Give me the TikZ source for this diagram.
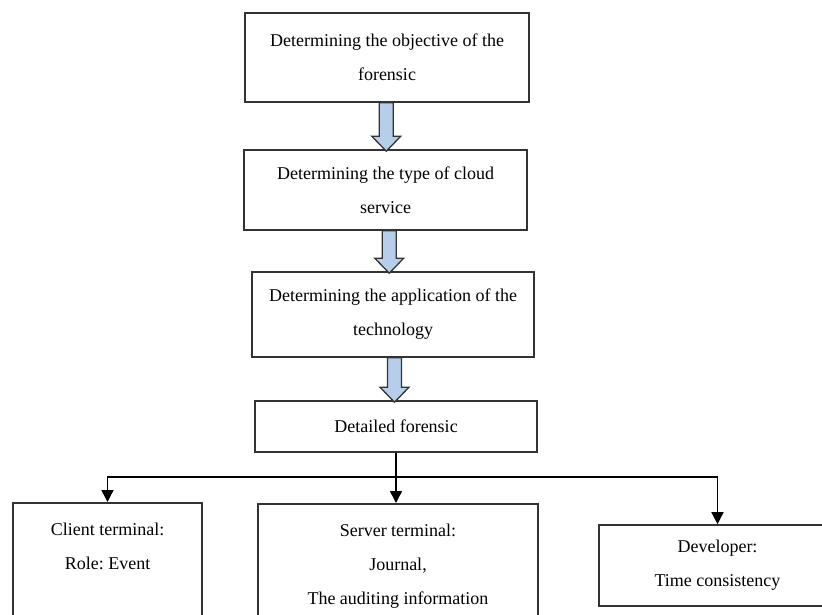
\documentclass[tikz,border=0pt]{standalone}
\usepackage{fontspec}
\setmainfont{Liberation Serif}
\usepackage{tikz}
\usetikzlibrary{positioning}
\usetikzlibrary{shapes,arrows.meta,calc}
\frenchspacing

\definecolor{boxline}{HTML}{333333}
\definecolor{arrowblue}{HTML}{B6CEEA}

\tikzset{
    stagebox/.style={draw=boxline, line width=1.6pt, rectangle, align=center,
        font=\fontsize{18}{34}\selectfont},
    boxtext/.style={align=center, anchor=north, font=\fontsize{18}{34}\selectfont},
    fatarrow/.style={draw=boxline, line width=1.3pt, fill=arrowblue, line join=miter},
    branch/.style={draw=black, line width=1.5pt},
    >={Triangle[length=12pt,width=12pt]}
}

% block arrow from the bottom of one box to the top of the next
\newcommand{\blockarrow}[2]{%
    \coordinate (mid) at ($(#1.south)!0.5!(#2.north)$);
    \coordinate (ta) at (mid |- #1.south);
    \coordinate (tb) at (mid |- #2.north);
    \draw[fatarrow] ($(ta)+(-7,0)$) -- ($(tb)+(-7,-13)$) -- ($(tb)+(-14.5,-13)$)
        -- ($(tb)+(0,2)$) -- ($(tb)+(14.5,-13)$) -- ($(tb)+(7,-13)$)
        -- ($(ta)+(7,0)$) -- cycle;
}

\begin{document}
\begin{tikzpicture}[x=1pt,y=-1pt]
    \clip (0,0) rectangle (822,615);

    % main steps
    \node[stagebox, minimum width=284pt, minimum height=89pt] (objective) at (387,57.5)
        {Determining the objective of the\\forensic};
    \node[stagebox, minimum width=283pt, minimum height=80pt] (service) at (385.5,190)
        {Determining the type of cloud\\service};
    \node[stagebox, minimum width=282pt, minimum height=85pt] (application) at (393,314.5)
        {Determining the application of the\\technology};
    \node[stagebox, minimum width=282pt, minimum height=51pt] (detailed) at (396,426.5)
        {Detailed forensic};

    % block arrows
    \blockarrow{objective}{service}
    \blockarrow{service}{application}
    \blockarrow{application}{detailed}

    % terminals
    \node[stagebox, minimum width=189pt, minimum height=130pt, anchor=north] (client) at (107.5,502) {};
    \node[stagebox, minimum width=280pt, minimum height=130pt, anchor=north] (server) at (398,503) {};
    \node[stagebox, minimum width=237pt, minimum height=81pt] (developer) at (717.5,565.5)
        {Developer:\\Time consistency};

    \node[boxtext] (clienttext) at ([yshift=-17pt]client.north) {Client terminal:\\Role: Event};
    \node[boxtext] (servertext) at ([yshift=-17pt]server.north)
        {Server terminal:\\Journal,\\The auditing information};

    % branches
    \coordinate (split) at ([yshift=-24pt]detailed.south);
    \draw[branch] (detailed.south) -- (split);
    \draw[branch,->] (split) -| (client.north);
    \draw[branch,->] (split) -- (split |- server.north);
    \draw[branch,->] (split) -| (developer.north);
\end{tikzpicture}
\end{document}
